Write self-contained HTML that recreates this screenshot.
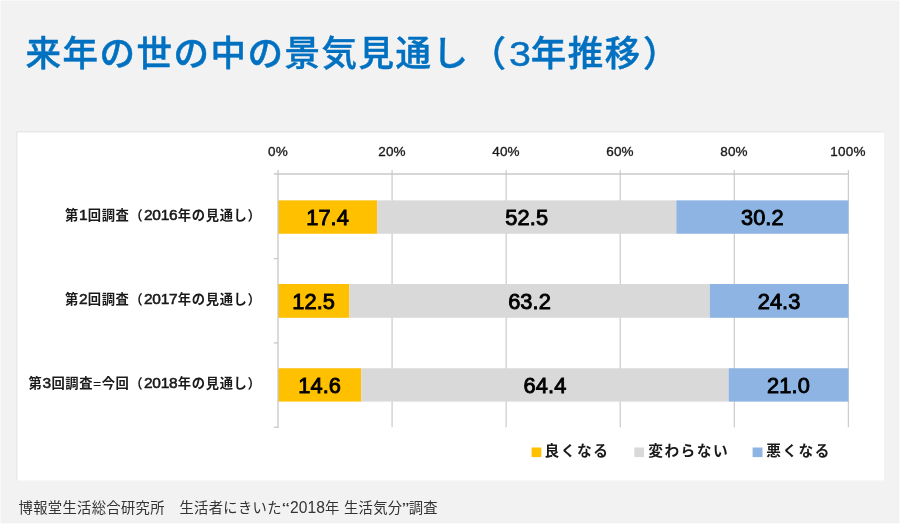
<!DOCTYPE html>
<html lang="ja">
<head>
<meta charset="utf-8">
<title>来年の世の中の景気見通し（3年推移）</title>
<style>
  html,body{margin:0;padding:0;}
  body{width:900px;height:524px;background:#fbfbfb;position:relative;overflow:hidden;
       font-family:"Liberation Sans","Noto Sans CJK JP",sans-serif;color:#1a1a1a;}
  h1{position:absolute;left:25.6px;top:27px;margin:0;font-size:35.5px;line-height:54px;font-weight:500;color:#0070c0;white-space:nowrap;letter-spacing:1.5px;-webkit-text-stroke:0.45px #0070c0;}
  h1 .n3{display:inline-block;transform:scaleX(1.11);transform-origin:0 50%;margin:0 0.9px 0 1px;}
  h1 .p1{margin-left:1px;}
  h1 .p2{margin-left:1.1px;}
  svg.chart{position:absolute;left:0;top:0;}
  .abs{position:absolute;white-space:nowrap;}
  .tick{font-size:13.5px;font-weight:400;line-height:16px;width:60px;text-align:center;top:144px;letter-spacing:0.2px;-webkit-text-stroke:0.35px #1a1a1a;}
  .cat{font-size:13.3px;font-weight:700;line-height:20px;text-align:right;right:638.5px;width:300px;letter-spacing:0.65px;}
  .cat .n{font-size:15.5px;font-weight:400;-webkit-text-stroke:0.55px #1a1a1a;letter-spacing:-0.3px;line-height:10px;margin-right:0.5px;}
  .cat .eq{font-weight:400;-webkit-text-stroke:0.3px #1a1a1a;}
  .cat .op{margin-right:0.5px;}
  .val{position:absolute;font-size:21.8px;font-weight:400;-webkit-text-stroke:0.9px #000;line-height:35.4px;text-align:center;color:#000;letter-spacing:0.1px;}
  .leg{font-size:14.7px;font-weight:700;line-height:20px;top:441px;letter-spacing:1.5px;}
  .foot{left:18.5px;top:496.7px;font-size:14.3px;line-height:22px;color:#333;font-weight:400;letter-spacing:0.33px;}
  .foot .q1{display:inline-block;transform:scaleX(1.6);transform-origin:0 50%;margin-right:3.1px;}
  .foot .q2{display:inline-block;transform:scaleX(1.5);transform-origin:0 50%;margin-right:1.2px;}
  .foot .dg{font-size:15.6px;letter-spacing:0.08px;line-height:10px;}
</style>
</head>
<body>

<svg class="chart" width="900" height="524" viewBox="0 0 900 524">
<g id="frame">
<rect x="1.2" y="1.2" width="897.3" height="521.3" fill="#f2f2f2" stroke="#eeeeee" stroke-width="0.8"/>
<rect x="16" y="131" width="868" height="349.6" rx="1.5" fill="#e8e8e8"/>
<rect x="17.5" y="132.5" width="866.5" height="348.1" fill="#ffffff"/>
</g>
<g id="grid">
<line x1="392.08" y1="170" x2="392.08" y2="427.3" stroke="#cecece" stroke-width="1.3"/>
<line x1="506.16" y1="170" x2="506.16" y2="427.3" stroke="#cecece" stroke-width="1.3"/>
<line x1="620.24" y1="170" x2="620.24" y2="427.3" stroke="#cecece" stroke-width="1.3"/>
<line x1="734.32" y1="170" x2="734.32" y2="427.3" stroke="#cecece" stroke-width="1.3"/>
<line x1="848.40" y1="170" x2="848.40" y2="427.3" stroke="#cecece" stroke-width="1.3"/>
</g>
<g id="bars">
<rect x="278.00" y="200.35" width="99.15" height="33.4" fill="#ffc000"/>
<rect x="377.15" y="200.35" width="299.16" height="33.4" fill="#d9d9d9"/>
<rect x="676.31" y="200.35" width="172.09" height="33.4" fill="#8db4e2"/>
<rect x="278.00" y="284.0" width="71.30" height="33.8" fill="#ffc000"/>
<rect x="349.30" y="284.0" width="360.49" height="33.8" fill="#d9d9d9"/>
<rect x="709.79" y="284.0" width="138.61" height="33.8" fill="#8db4e2"/>
<rect x="278.00" y="368.25" width="83.28" height="33.35" fill="#ffc000"/>
<rect x="361.28" y="368.25" width="367.34" height="33.35" fill="#d9d9d9"/>
<rect x="728.62" y="368.25" width="119.78" height="33.35" fill="#8db4e2"/>
</g>
<g id="legend">
<rect x="531.6" y="447.5" width="9.7" height="9.6" fill="#ffc000"/>
<rect x="634.3" y="447.5" width="9.7" height="9.6" fill="#d9d9d9"/>
<rect x="752.6" y="447.5" width="9.9" height="9.6" fill="#8db4e2"/>
</g>
<g id="axis">
<line x1="278.0" y1="170" x2="278.0" y2="427.9" stroke="#c8c8c8" stroke-width="1.3"/>
<line x1="273.8" y1="174.0" x2="849.05" y2="174.0" stroke="#c8c8c8" stroke-width="1.3"/>
<line x1="273.8" y1="258.6" x2="278.0" y2="258.6" stroke="#c8c8c8" stroke-width="1.3"/>
<line x1="273.8" y1="342.9" x2="278.0" y2="342.9" stroke="#c8c8c8" stroke-width="1.3"/>
<line x1="273.8" y1="427.2" x2="278.0" y2="427.2" stroke="#c8c8c8" stroke-width="1.3"/>
</g>
</svg>

<h1>来年の世の中の景気見通し<span class="p1">（</span><span class="n3">3</span>年推移<span class="p2">）</span></h1>

<!-- axis tick labels -->
<div class="abs tick" style="left:248px">0%</div>
<div class="abs tick" style="left:362px">20%</div>
<div class="abs tick" style="left:476px">40%</div>
<div class="abs tick" style="left:590px">60%</div>
<div class="abs tick" style="left:704px">80%</div>
<div class="abs tick" style="left:818px">100%</div>

<!-- category labels -->
<div class="abs cat" style="top:206px">第<span class="n">1</span>回調査<span class="op">（</span><span class="n">2016</span>年の見通し）</div>
<div class="abs cat" style="top:290px">第<span class="n">2</span>回調査<span class="op">（</span><span class="n">2017</span>年の見通し）</div>
<div class="abs cat" style="top:374px">第<span class="n">3</span>回調査<span class="eq">=</span>今回<span class="op">（</span><span class="n">2018</span>年の見通し）</div>

<!-- data labels -->
<div class="val" style="left:278.0px;top:200.2px;width:99.2px">17.4</div>
<div class="val" style="left:377.2px;top:200.2px;width:299.2px">52.5</div>
<div class="val" style="left:676.3px;top:200.2px;width:172.1px">30.2</div>
<div class="val" style="left:278.0px;top:284.0px;width:71.3px">12.5</div>
<div class="val" style="left:349.3px;top:284.0px;width:360.5px">63.2</div>
<div class="val" style="left:709.8px;top:284.0px;width:138.6px">24.3</div>
<div class="val" style="left:278.0px;top:368.0px;width:83.3px">14.6</div>
<div class="val" style="left:361.3px;top:368.0px;width:367.3px">64.4</div>
<div class="val" style="left:728.6px;top:368.0px;width:119.8px">21.0</div>

<!-- legend -->
<div class="abs leg" style="left:544.6px">良くなる</div>
<div class="abs leg" style="left:648.2px">変わらない</div>
<div class="abs leg" style="left:766.2px">悪くなる</div>

<div class="abs foot">博報堂生活総合研究所　生活者にきいた<span class="q1">“</span><span class="dg">2018</span>年 生活気分<span class="q2">”</span>調査</div>
</body>
</html>
